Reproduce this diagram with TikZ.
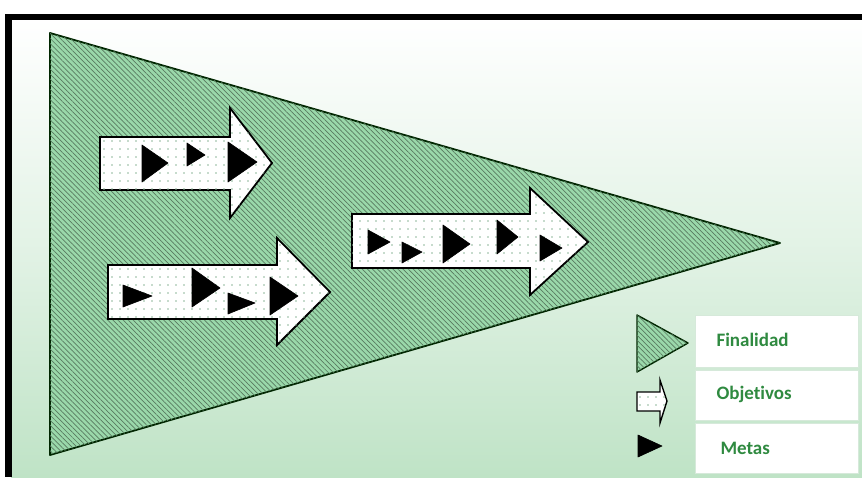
\documentclass[tikz,border=0pt]{standalone}
\usepackage{fontspec}
\setmainfont{Carlito}[Ligatures={NoCommon}]
\usetikzlibrary{patterns.meta}
\definecolor{bggreen}{HTML}{BFE3C6}
\definecolor{hatchgreen}{HTML}{9AD8AA}
\definecolor{hatchline}{HTML}{587A60}
\definecolor{dotcol}{HTML}{8FB79A}
\definecolor{txtgreen}{HTML}{2F8A40}
\definecolor{boxline}{HTML}{D6E9DA}
\tikzset{
  finalidad/.style={fill=hatchgreen, postaction={pattern={Lines[angle=-45,distance=3.6pt,line width=0.7pt]}, pattern color=hatchline}, draw=black!85!green, line width=1.8pt, line join=round},
  objetivo/.style={fill=white, postaction={pattern={Dots[distance=8pt,radius=0.9pt]}, pattern color=dotcol}, draw=black, line width=1.8pt, line join=miter},
  meta/.style={fill=black, draw=black, line width=0.6pt, line join=round},
  legbox/.style={fill=white, draw=boxline, line width=0.8pt},
  legtext/.style={text=txtgreen, font=\fontsize{19}{22}\selectfont\bfseries, anchor=west}
}
\begin{document}
\begin{tikzpicture}[x=1pt,y=-1pt]
\useasboundingbox (0,0) rectangle (862,477);
\fill[white] (0,0) rectangle (862,477);
% background gradient
\shade[top color=white, bottom color=bggreen, middle color=white!55!bggreen] (11,19) rectangle (862,477);
% frame
\fill[black] (5,14) rectangle (862,19.5);
\fill[black] (5,14) rectangle (11.5,477);
% big triangle (Finalidad)
\path[finalidad] (50,33) -- (780,243) -- (50,455) -- cycle;
% arrow 1
\path[objetivo] (100,137) -- (230,137) -- (230,108) -- (272,163) -- (230,218) -- (230,190) -- (100,190) -- cycle;
\path[meta] (142,145) -- (168,163) -- (142,182) -- cycle;
\path[meta] (187,143) -- (205,155) -- (187,166) -- cycle;
\path[meta] (228,142) -- (257,162) -- (228,182) -- cycle;
% arrow 2
\path[objetivo] (108,265) -- (277,265) -- (277,238) -- (330,292) -- (277,345) -- (277,319) -- (108,319) -- cycle;
\path[meta] (123,285) -- (152,296) -- (123,307) -- cycle;
\path[meta] (192,268) -- (220,288) -- (192,307) -- cycle;
\path[meta] (228,293) -- (255,303) -- (228,314) -- cycle;
\path[meta] (270,277) -- (298,296) -- (270,315) -- cycle;
% arrow 3
\path[objetivo] (352,214) -- (530,214) -- (530,188) -- (588,242) -- (530,295) -- (530,268) -- (352,268) -- cycle;
\path[meta] (368,230) -- (390,242) -- (368,254) -- cycle;
\path[meta] (402,242) -- (422,252) -- (402,263) -- cycle;
\path[meta] (443,225) -- (470,244) -- (443,263) -- cycle;
\path[meta] (497,220) -- (518,237) -- (497,254) -- cycle;
\path[meta] (540,235) -- (562,248) -- (540,261) -- cycle;
% legend boxes
\path[legbox] (695,315) rectangle (858,367);
\path[legbox] (695,370) rectangle (858,420);
\path[legbox] (695,423) rectangle (858,473);
\node[legtext] (tfin) at (713,340) {Finalidad};
\node[legtext] (tobj) at (713,394) {Objetivos};
\node[legtext] (tmet) at (717,448) {Metas};
% legend symbols
\path[finalidad, line width=1.4pt] (637,315) -- (688,343) -- (637,372) -- cycle;
\path[objetivo, line width=1.4pt] (637,392) -- (660,392) -- (660,380) -- (667,401) -- (660,423) -- (660,411) -- (637,411) -- cycle;
\path[meta] (638,435) -- (662,446) -- (638,457) -- cycle;
\end{tikzpicture}
\end{document}
